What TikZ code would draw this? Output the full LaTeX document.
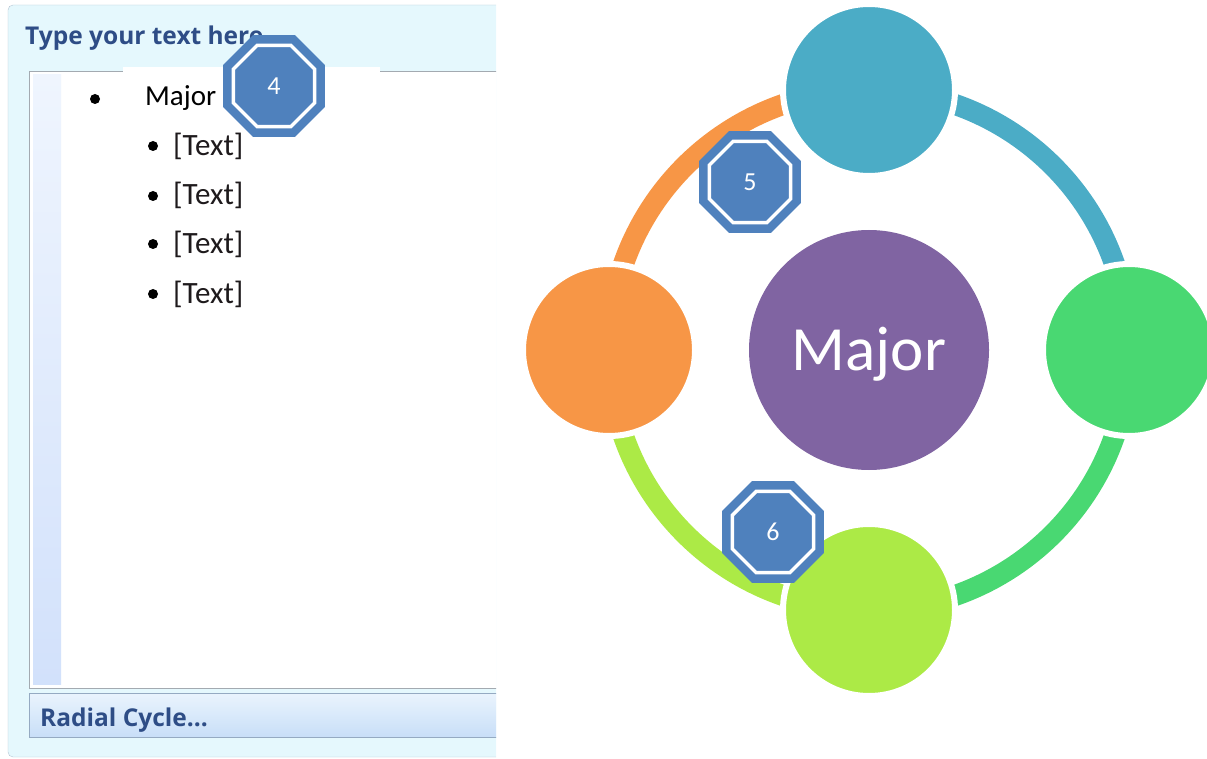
\documentclass[tikz,border=0pt]{standalone}
\usepackage{fontspec}
\setmainfont{Carlito}
\newfontfamily\panefont{Open Sans}
\usetikzlibrary{shapes.geometric,backgrounds}

\definecolor{panefill}{HTML}{E5F8FD}
\definecolor{paneedge}{HTML}{B2C2D2}
\definecolor{boxedge}{HTML}{A3AAB1}
\definecolor{headblue}{HTML}{2E4D86}
\definecolor{stripTop}{HTML}{EFF5FE}
\definecolor{stripBot}{HTML}{D2E1FB}
\definecolor{barTop}{HTML}{EAF4FD}
\definecolor{barMid}{HTML}{C8DEF8}
\definecolor{baredge}{HTML}{95AAC2}
\definecolor{itemtext}{HTML}{1E1A1C}
\definecolor{badgeblue}{HTML}{4F81BD}
\definecolor{majorpurple}{HTML}{8064A2}
\definecolor{cycteal}{HTML}{4BACC6}
\definecolor{cycgreen}{HTML}{49D872}
\definecolor{cyclime}{HTML}{ACEA46}
\definecolor{cycorange}{HTML}{F79646}

\begin{document}
\begin{tikzpicture}
[x=1pt, y=-1pt, every node/.style={inner sep=0pt},
 bullet/.style={circle, minimum size=10pt, fill=black},
 entry/.style={anchor=base west, font=\fontsize{29}{34}\selectfont},
 subentry/.style={anchor=base west, text=itemtext, font=\fontsize{31}{36}\selectfont},
 panehead/.style={anchor=base west, text=headblue, font=\panefont\bfseries\fontsize{24.5}{28}\selectfont},
 spoke/.style={circle, minimum size=172pt, draw=white, line width=6pt},
 ring/.style={line width=21pt},
 badge/.style={regular polygon, regular polygon sides=8, minimum size=110pt, fill=badgeblue},
 badgeface/.style={regular polygon, regular polygon sides=8, minimum size=88pt, fill=badgeblue, draw=white, line width=3.5pt, text=white, text height=16.4pt, text depth=0pt, font=\fontsize{26}{30}\selectfont}]
\useasboundingbox (0,0) rectangle (1207,759);
\clip (0,0) rectangle (1207,759);
% text pane
\begin{scope}
\clip (0,0) rectangle (496,759);
\draw[paneedge, fill=panefill, rounded corners=5pt] (8,5) rectangle (540,757);
\node[panehead] (head) at (25,45) {Type your text here};
\draw[boxedge, fill=white] (29,71) rectangle (540,688);
\shade[top color=stripTop, bottom color=stripBot] (33,75) rectangle (61,684);
\fill[white] (123,67) rectangle (380,74);
\node[bullet] (dot0) at (95,99) {};
\node[entry] (item0) at (145,106) {Major};
\node[bullet] (dot1) at (153,146) {};
\node[subentry] (item1) at (173,156) {[Text]};
\node[bullet] (dot2) at (153,196) {};
\node[subentry] (item2) at (173,205) {[Text]};
\node[bullet] (dot3) at (153,244) {};
\node[subentry] (item3) at (173,254) {[Text]};
\node[bullet] (dot4) at (153,294) {};
\node[subentry] (item4) at (173,303) {[Text]};
\shade[draw=baredge, top color=barTop, bottom color=barMid] (29,693) rectangle (540,737);
\node[panehead] (layout) at (40,726) {Radial Cycle...};
\end{scope}
% radial cycle
\begin{scope}[shift={(869,350)}, y=1pt]
\node[spoke, fill=cycteal] (north) at (0,260) {};
\node[spoke, fill=cycgreen] (east) at (260,0) {};
\node[spoke, fill=cyclime] (south) at (0,-260) {};
\node[spoke, fill=cycorange] (west) at (-260,0) {};
\node[circle, minimum size=240pt, fill=majorpurple, text=white, text height=40.6pt, text depth=0pt, font=\fontsize{63}{70}\selectfont] (hub) at (0,0) {Major};
\begin{scope}[on background layer]
\draw[ring, cycteal] (north.center) to[out=0, in=90] (east.center);
\draw[ring, cycgreen] (east.center) to[out=-90, in=0] (south.center);
\draw[ring, cyclime] (south.center) to[out=180, in=-90] (west.center);
\draw[ring, cycorange] (west.center) to[out=90, in=180] (north.center);
\end{scope}
\end{scope}
% step badges
\node[badge] (b4) at (274,86) {};
\node[badgeface] (n4) at (b4) {4};
\node[badge] (b5) at (750,182) {};
\node[badgeface] (n5) at (b5) {5};
\node[badge] (b6) at (773,532) {};
\node[badgeface] (n6) at (b6) {6};
\end{tikzpicture}
\end{document}
